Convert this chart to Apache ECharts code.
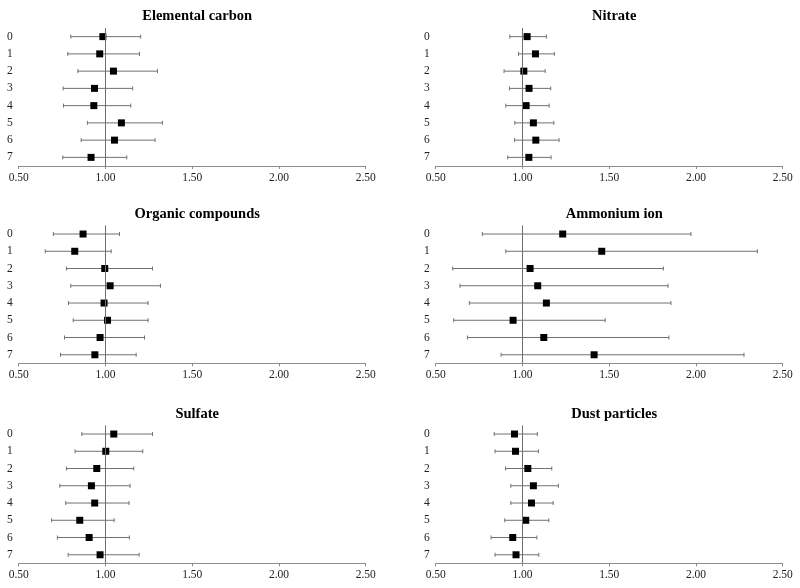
<!DOCTYPE html>
<html>
<head>
<meta charset="utf-8">
<script src="https://cdn.jsdelivr.net/npm/echarts@6/dist/echarts.min.js"></script>
<style>html,body{margin:0;padding:0;background:#fff}#c{width:800px;height:588px}</style>
</head>
<body>
<div id="c"></div>
<script>
const categories = ['0','1','2','3','4','5','6','7'];
const xTicks = [0.5, 1.0, 1.5, 2.0, 2.5];
const titles = ['Elemental carbon','Nitrate','Organic compounds','Ammonium ion','Sulfate','Dust particles'];

const ecEst = [0.985,0.967,1.046,0.937,0.933,1.092,1.052,0.917];
const ecLow = [0.800,0.783,0.841,0.756,0.758,0.896,0.860,0.754];
const ecHigh = [1.203,1.196,1.300,1.157,1.146,1.328,1.286,1.123];

const niEst = [1.027,1.075,1.008,1.038,1.021,1.063,1.077,1.037];
const niLow = [0.927,0.977,0.894,0.925,0.904,0.956,0.954,0.915];
const niHigh = [1.138,1.184,1.131,1.163,1.154,1.181,1.211,1.165];

const ocEst = [0.871,0.823,0.996,1.027,0.992,1.012,0.969,0.939];
const ocLow = [0.700,0.653,0.775,0.800,0.787,0.814,0.764,0.741];
const ocHigh = [1.081,1.033,1.271,1.317,1.246,1.246,1.225,1.177];

const amEst = [1.232,1.457,1.044,1.088,1.138,0.946,1.123,1.413];
const amLow = [0.769,0.904,0.598,0.640,0.694,0.604,0.683,0.877];
const amHigh = [1.971,2.354,1.812,1.839,1.856,1.477,1.844,2.277];

const suEst = [1.048,1.002,0.950,0.919,0.938,0.852,0.906,0.969];
const suLow = [0.864,0.825,0.775,0.737,0.771,0.690,0.723,0.785];
const suHigh = [1.271,1.215,1.163,1.142,1.136,1.050,1.138,1.194];

const duEst = [0.954,0.960,1.031,1.063,1.052,1.019,0.944,0.963];
const duLow = [0.837,0.842,0.902,0.933,0.933,0.898,0.819,0.842];
const duHigh = [1.086,1.092,1.169,1.207,1.177,1.152,1.083,1.094];

const panels = [
  [ecEst, ecLow, ecHigh],
  [niEst, niLow, niHigh],
  [ocEst, ocLow, ocHigh],
  [amEst, amLow, amHigh],
  [suEst, suLow, suHigh],
  [duEst, duLow, duHigh]
];

const FONT = '"Liberation Serif","Times New Roman",serif';
const colLeft = [18.7, 435.7];
const W = 347;
const rowTop = [28, 225.4, 425.4];
const H = 138;
const titleTop = [4, 202, 402];

const grids = [], xAxes = [], yAxes = [], series = [], title = [];
panels.forEach((p, i) => {
  const r = Math.floor(i / 2), c = i % 2;
  grids.push({left: colLeft[c], top: rowTop[r], width: W, height: H, containLabel: false});
  title.push({
    text: titles[i], left: colLeft[c] + W / 2, top: titleTop[r], textAlign: 'center',
    textStyle: {fontFamily: FONT, fontWeight: 'bold', fontSize: 14.5, color: '#000'}
  });
  xAxes.push({
    type: 'value', gridIndex: i, min: xTicks[0], max: xTicks[xTicks.length - 1], interval: 0.5,
    axisLine: {show: true, lineStyle: {color: '#8c8c8c', width: 1}},
    axisTick: {show: true, length: 3, lineStyle: {color: '#8c8c8c'}},
    splitLine: {show: false},
    axisLabel: {fontFamily: FONT, fontSize: 11.5, color: '#222', margin: 6,
      formatter: v => v.toFixed(2)}
  });
  yAxes.push({
    type: 'category', gridIndex: i, data: categories, inverse: true,
    axisLine: {show: false}, axisTick: {show: false}, splitLine: {show: false},
    axisLabel: {fontFamily: FONT, fontSize: 11.5, color: '#222', margin: 6}
  });
  const [est, lo, hi] = p;
  series.push({
    type: 'custom', xAxisIndex: i, yAxisIndex: i,
    dimensions: ['lo', 'cat', 'hi'],
    data: categories.map((cat, k) => [lo[k], k, hi[k]]),
    encode: {x: ['lo', 'hi'], y: 'cat'},
    renderItem: function (params, api) {
      const a = api.coord([api.value(0), api.value(1)]);
      const b = api.coord([api.value(2), api.value(1)]);
      const cap = 2;
      const st = {stroke: '#707070', lineWidth: 1};
      return {type: 'group', children: [
        {type: 'line', shape: {x1: a[0], y1: a[1], x2: b[0], y2: b[1]}, style: st},
        {type: 'line', shape: {x1: a[0], y1: a[1] - cap, x2: a[0], y2: a[1] + cap}, style: st},
        {type: 'line', shape: {x1: b[0], y1: b[1] - cap, x2: b[0], y2: b[1] + cap}, style: st}
      ]};
    },
    z: 2
  });
  series.push({
    type: 'scatter', xAxisIndex: i, yAxisIndex: i,
    data: est.map((v, k) => [v, k]),
    symbol: 'rect', symbolSize: 7,
    itemStyle: {color: '#000', opacity: 1}, z: 3,
    markLine: {
      silent: true, symbol: ['none', 'none'], label: {show: false},
      lineStyle: {color: '#6e6e6e', type: 'solid', width: 1},
      emphasis: {disabled: true},
      data: [{xAxis: 1.0}]
    }
  });
});

const chart = echarts.init(document.getElementById('c'), null, {renderer: 'canvas'});
chart.setOption({
  animation: false,
  backgroundColor: '#fff',
  title: title,
  grid: grids,
  xAxis: xAxes,
  yAxis: yAxes,
  series: series
});
</script>
</body>
</html>
